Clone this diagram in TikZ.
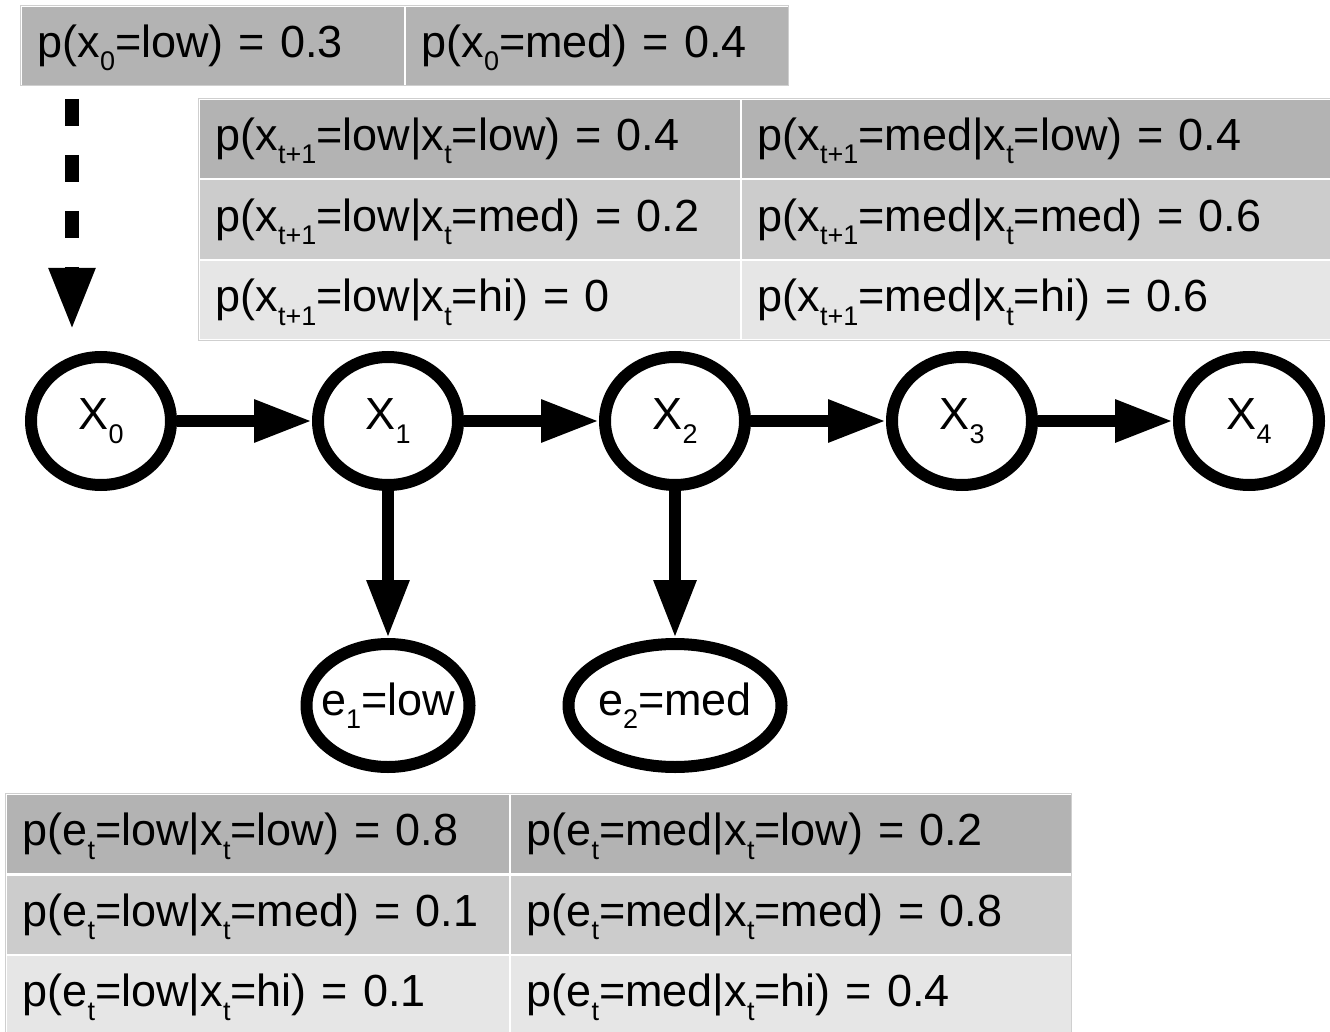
\documentclass[tikz,border=0pt]{standalone}
\usepackage{fontspec}
\setmainfont{Liberation Sans}
\usepackage{graphicx}
\usetikzlibrary{
  shapes.geometric, % Node shape "ellipse"
  arrows.meta,
  positioning,      % Function "of" (e.g. [right=of x0])
  matrix,
}
\newcommand{\lowsub}[1]{\raisebox{-0.3em}{\scalebox{0.6}{#1}}}
\newcommand{\xs}[1]{x\lowsub{#1}}
\newcommand{\es}[1]{e\lowsub{#1}}
\newcommand{\xn}[1]{\makebox[0pt]{X\lowsub{#1}}}
\newcommand{\pr}[2]{\mbox{p(#1) = #2}}
\definecolor{rowA}{HTML}{B3B3B3}
\definecolor{rowB}{HTML}{CCCCCC}
\definecolor{rowC}{HTML}{E6E6E6}
\definecolor{tblline}{HTML}{CFCFCF}
\def\mylw{12pt}
\def\myndist{135pt}
\def\myvdist{147pt}
\tikzset{
  x=1pt,
  y=-1pt,
  font=\fontsize{45}{54}\selectfont,
  >={Triangle[length=58pt,width=40pt]},
  mtrx/.style={
    ampersand replacement=\&
  },
  cell/.style={
    inner xsep=16pt,
    inner ysep=0pt,
    minimum height=78pt,
    text height=34pt,
    text depth=11pt,
    align=left
  },
  tbl/.style={
    mtrx,
    draw=tblline,
    line width=1pt,
    fill=white,
    inner sep=1pt,
    column sep=2pt,
    row sep=2pt,
    anchor=north west,
    nodes={cell}
  },
  ra/.style={fill=rowA},
  rb/.style={fill=rowB},
  rc/.style={fill=rowC},
  var/.style={
    draw,
    ellipse,
    line width=\mylw,
    minimum width=140pt,
    minimum height=128pt,
    inner sep=0pt
  },
  ev/.style={
    var,
    minimum width=163pt,
    minimum height=123pt
  },
  wide/.style={minimum width=213pt},
  prior/.style={
    line width=14pt,
    dash pattern=on 27pt off 29pt,
    -{Triangle[length=62pt,width=43pt]}
  },
  node distance=\myndist
}
\begin{document}
\begin{tikzpicture}
\useasboundingbox (0,0) rectangle (1330,1032);
% prior table
\matrix[tbl,column 1/.style={nodes={text width=350pt}},
  column 2/.style={nodes={text width=350pt}}] (ptab) at (20,5) {
  \node[ra] (p0) {\pr{\xs0=low}{0.3}}; \& \node[ra] (p1) {\pr{\xs0=med}{0.4}}; \\
};
% transition table
\matrix[tbl,column 1/.style={nodes={text width=508pt}},
  column 2/.style={nodes={text width=560pt}}] (ttab) at (198,98) {
  \node[ra] (t00) {\pr{\xs{t+1}=low|\xs t=low}{0.4}}; \& \node[ra] (t01) {\pr{\xs{t+1}=med|\xs t=low}{0.4}}; \\
  \node[rb] (t10) {\pr{\xs{t+1}=low|\xs t=med}{0.2}}; \& \node[rb] (t11) {\pr{\xs{t+1}=med|\xs t=med}{0.6}}; \\
  \node[rc] (t20) {\pr{\xs{t+1}=low|\xs t=hi}{0}}; \& \node[rc] (t21) {\pr{\xs{t+1}=med|\xs t=hi}{0.6}}; \\
};
% sensor table
\matrix[tbl,column 1/.style={nodes={text width=470pt}},
  column 2/.style={nodes={text width=528pt}}] (stab) at (5,793) {
  \node[ra] (s00) {\pr{\es t=low|\xs t=low}{0.8}}; \& \node[ra] (s01) {\pr{\es t=med|\xs t=low}{0.2}}; \\
  \node[rb] (s10) {\pr{\es t=low|\xs t=med}{0.1}}; \& \node[rb] (s11) {\pr{\es t=med|\xs t=med}{0.8}}; \\
  \node[rc] (s20) {\pr{\es t=low|\xs t=hi}{0.1}}; \& \node[rc] (s21) {\pr{\es t=med|\xs t=hi}{0.4}}; \\
};
% chain
\node[var] (x0) at (101,421) {\xn0};
\node[var,right=of x0] (x1) {\xn1};
\node[var,right=of x1] (x2) {\xn2};
\node[var,right=of x2] (x3) {\xn3};
\node[var,right=of x3] (x4) {\xn4};
\node[ev,below=\myvdist of x1] (e1) {\makebox[0pt]{\es1=low}};
\node[ev,wide,below=\myvdist of x2] (e2) {\makebox[0pt]{\es2=med}};
\coordinate (pt) at (72,99);
\coordinate (ph) at (72,330);
\draw[prior] (pt) -- (ph);
\path[->,line width=\mylw]
  (x0) edge (x1)
  (x1) edge (x2) edge (e1)
  (x2) edge (x3) edge (e2)
  (x3) edge (x4);
\end{tikzpicture}
\end{document}
